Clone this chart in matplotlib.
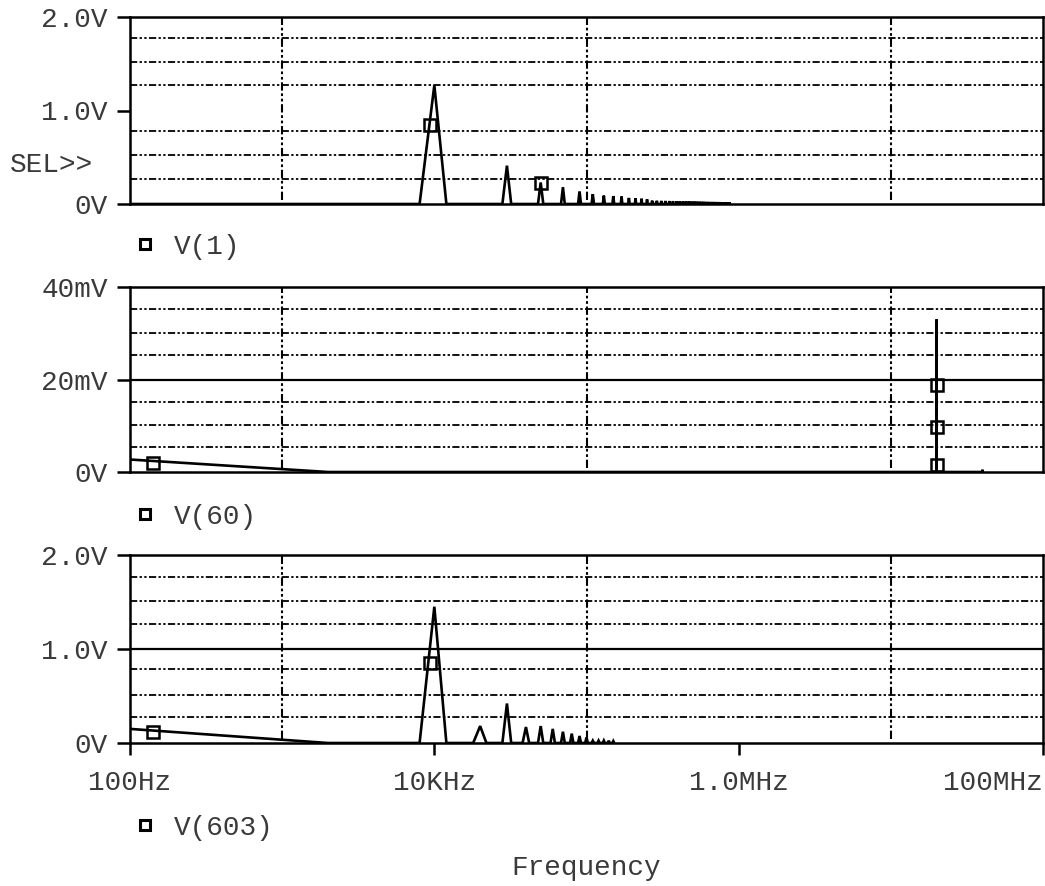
import numpy as np
import matplotlib.pyplot as plt
from matplotlib.lines import Line2D
from matplotlib.ticker import NullLocator

plt.rcParams['font.family'] = ['Liberation Mono', 'DejaVu Sans Mono']
plt.rcParams['font.size'] = 20

TXT = '#3a3a3a'
DOTS = (0, (4, 1.3, 1.3, 1.3, 1.3, 1.3))

# FFT bin width (Hz) of the analysis, used for the spike bases
BIN = 2e3

# V(1): odd harmonics of the 10 kHz square wave
v1_lead = 0.0
v1_peak_f = np.arange(10e3, 871e3, 20e3)
v1_peak_v = [1.27, 0.41, 0.23, 0.18, 0.135, 0.105, 0.09, 0.085, 0.08, 0.065, 0.06, 0.057, 0.05,
             0.036, 0.035, 0.034, 0.033, 0.032, 0.031, 0.030, 0.029, 0.028, 0.028, 0.027,
             0.026, 0.026, 0.025, 0.025, 0.024, 0.024, 0.023, 0.023, 0.022, 0.022, 0.022,
             0.021, 0.021, 0.021, 0.020, 0.020, 0.020, 0.020, 0.019, 0.019]
v1_mark_f = [9.4e3, 50e3]
v1_mark_v = [0.845, 0.22]

# V(60)
v60_lead = 2.7e-3
v60_peak_f = [20e6, 40e6]
v60_peak_v = [33e-3, 0.5e-3]
v60_mark_f = [141, 20e6, 20e6, 20e6]
v60_mark_v = [2.0e-3, 18.8e-3, 9.8e-3, 1.6e-3]

# V(603)
v603_lead = 0.15
v603_peak_f = np.arange(10e3, 151e3, 10e3)
v603_peak_v = [1.45, 0.18, 0.42, 0.17, 0.18, 0.15, 0.12, 0.10, 0.075, 0.06,
               0.025, 0.025, 0.025, 0.025, 0.02]
v603_mark_f = [141, 9.4e3]
v603_mark_v = [0.12, 0.85]

x_ticks = [1e2, 1e4, 1e6, 1e8]
x_labels = ['100Hz', '10KHz', '1.0MHz', '100MHz']
x_grid = [1e3, 1e5, 1e7]


def spectrum(lead, peak_f, peak_v):
    f = [100.0, BIN]
    v = [lead, 0.0]
    for pf, pv in zip(peak_f, peak_v):
        f += [pf - BIN, pf, pf + BIN]
        v += [0.0, pv, 0.0]
    return np.array(f), np.array(v)


panels = [
    dict(px=(17, 204), ylim=2.0, yt=[0, 1, 2], yl=['0V', '1.0V', '2.0V'],
         minor=[0.27, 0.52, 0.78, 1.27, 1.52, 1.78], mid=None,
         data=(v1_lead, v1_peak_f, v1_peak_v), mk=(v1_mark_f, v1_mark_v),
         name='V(1)', leg_y=247),
    dict(px=(287, 472), ylim=0.04, yt=[0, 0.02, 0.04], yl=['0V', '20mV', '40mV'],
         minor=[0.0055, 0.0101, 0.0152, 0.0253, 0.0301, 0.0353], mid=0.02,
         data=(v60_lead, v60_peak_f, v60_peak_v), mk=(v60_mark_f, v60_mark_v),
         name='V(60)', leg_y=517),
    dict(px=(555, 743), ylim=2.0, yt=[0, 1, 2], yl=['0V', '1.0V', '2.0V'],
         minor=[0.28, 0.51, 0.79, 1.27, 1.51, 1.77], mid=1.0,
         data=(v603_lead, v603_peak_f, v603_peak_v), mk=(v603_mark_f, v603_mark_v),
         name='V(603)', leg_y=828),
]

W, H = 1045, 886
fig = plt.figure(figsize=(W / 100, H / 100), dpi=100)

axes = []
for i, p in enumerate(panels):
    top, bot = p['px']
    ax = fig.add_axes([130 / W, 1 - bot / H, (1043 - 130) / W, (bot - top) / H])
    axes.append(ax)
    ax.set_xscale('log')
    ax.set_xlim(1e2, 1e8)
    ax.set_ylim(0, p['ylim'])
    ax.xaxis.set_minor_locator(NullLocator())
    ax.yaxis.set_minor_locator(NullLocator())

    for s in ax.spines.values():
        s.set_linewidth(1.8)
        s.set_color('k')

    ax.set_yticks(p['yt'], labels=p['yl'])
    ax.tick_params(axis='y', length=9.4, width=1.8, pad=6.5, labelcolor=TXT)

    if i < 2:
        ax.set_xticks([])
    else:
        ax.set_xticks(x_ticks, labels=x_labels)
        ax.tick_params(axis='x', length=8.6, width=1.8, pad=11, labelcolor=TXT)
        ax.get_xticklabels()[-1].set_ha('right')

    for y in p['minor']:
        ax.axhline(y, color='k', lw=1.3, ls=DOTS, zorder=1)
    if p['mid'] is not None:
        ax.axhline(p['mid'], color='k', lw=1.6, zorder=1)
    for xg in x_grid:
        ax.axvline(xg, ymin=0.02, ymax=1, color='k', lw=1.5, ls=DOTS, zorder=1)

    f, v = spectrum(*p['data'])
    ax.plot(f, v, color='k', lw=1.9, solid_joinstyle='miter', zorder=3)
    ax.plot(p['mk'][0], p['mk'][1], ls='none', marker='s', ms=9, mfc='none',
            mec='k', mew=1.8, zorder=4)

    handle = Line2D([], [], ls='none', marker='s', ms=6.5, mfc='none', mec='k', mew=2.2)
    ax.legend(handles=[handle], labels=[p['name']], loc='center left',
              bbox_to_anchor=(131 / W, 1 - p['leg_y'] / H), bbox_transform=fig.transFigure,
              frameon=False, borderpad=0, borderaxespad=0, handlelength=1.0,
              handletextpad=0.55, labelcolor=TXT)

axes[2].set_xlabel('Frequency', labelpad=42, color=TXT)
fig.text(10 / W, 1 - 165 / H, 'SEL>>', ha='left', va='center', color=TXT)

fig.savefig('out.png', dpi=100)
